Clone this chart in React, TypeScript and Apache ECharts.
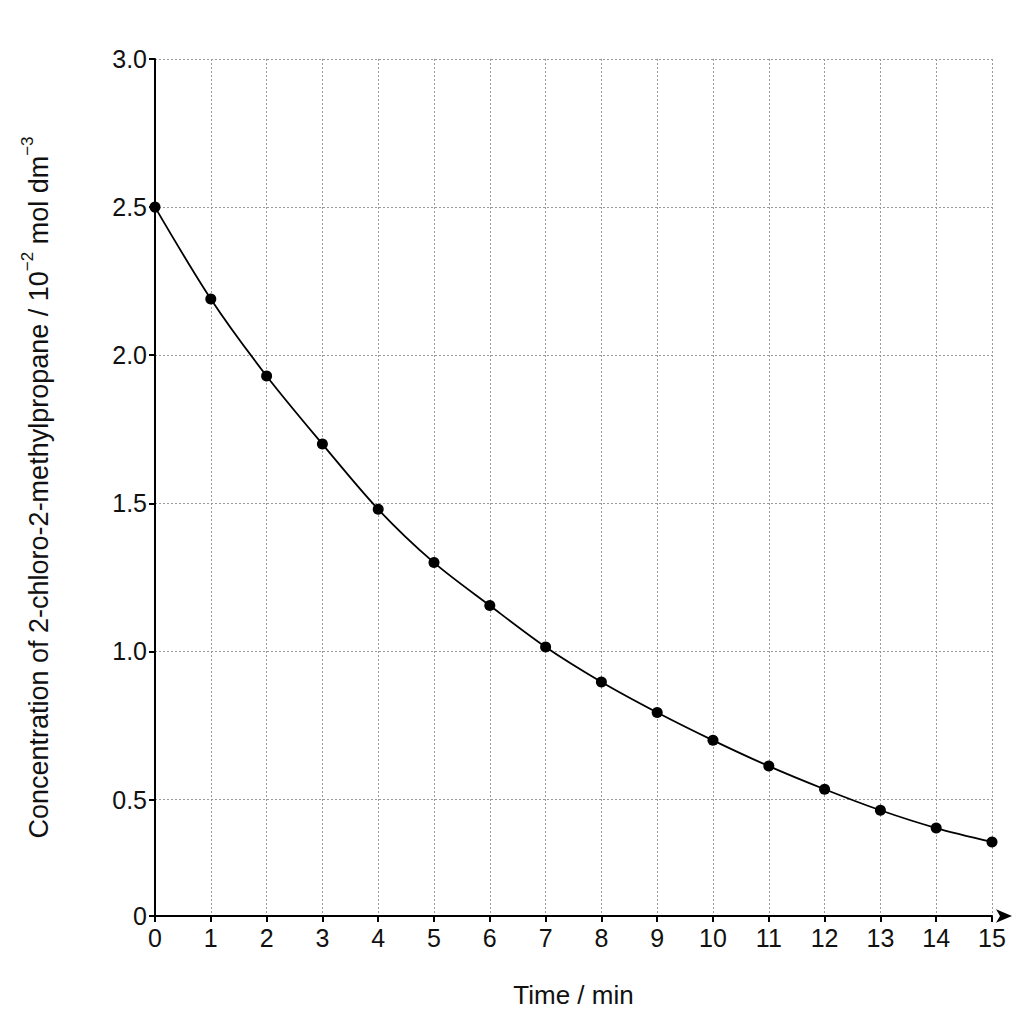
import { useEffect, useRef } from "react";
import * as echarts from "echarts";

// time in minutes, concentration in 10^-2 mol dm^-3
const times = [0, 1, 2, 3, 4, 5, 6, 7, 8, 9, 10, 11, 12, 13, 14, 15];
const concentrations = [
  2.5, 2.19, 1.93, 1.7, 1.48, 1.3, 1.155, 1.015, 0.897, 0.794, 0.7, 0.613,
  0.535, 0.464, 0.404, 0.357,
];
// the drawn axis starts a little above zero, but its bottom tick reads "0"
const yAxisBottom = 0.107;
const yTickValues = [yAxisBottom, 0.5, 1.0, 1.5, 2.0, 2.5, 3.0];

const font = '"Liberation Sans", Arial, sans-serif';

export default function App() {
  const chartRef = useRef<HTMLDivElement>(null);

  useEffect(() => {
    document.body.style.margin = "0";
    if (!chartRef.current) return;
    const chart = echarts.init(chartRef.current, null, { renderer: "svg" });

    const gridLine = {
      show: true,
      lineStyle: { color: "#9a9a9a", width: 1, type: [2, 2] as number[] },
    };

    const option: echarts.EChartsOption = {
      animation: false,
      backgroundColor: "#ffffff",
      textStyle: { fontFamily: font },
      grid: { left: 155, right: 32, top: 59, bottom: 108, containLabel: false },
      xAxis: {
        type: "value",
        min: 0,
        max: 15,
        interval: 1,
        name: "Time / min",
        nameLocation: "middle",
        nameGap: 66,
        nameTextStyle: { fontSize: 26, color: "#111", fontFamily: font },
        axisLine: {
          lineStyle: { color: "#000", width: 2 },
          symbol: ["none", "arrow"],
          symbolSize: [10, 16],
          symbolOffset: [0, 20],
        },
        axisTick: { show: true, length: 6, lineStyle: { color: "#000", width: 2 } },
        axisLabel: { fontSize: 25, color: "#111", margin: 9, fontFamily: font },
        splitLine: gridLine,
      },
      yAxis: {
        type: "value",
        min: yAxisBottom,
        max: 3.0,
        name: "Concentration of 2-chloro-2-methylpropane / 10{sup|−2} mol dm{sup|−3}",
        nameLocation: "middle",
        nameGap: 96,
        nameTextStyle: {
          fontSize: 27,
          color: "#111",
          fontFamily: font,
          lineHeight: 40,
          rich: {
            sup: {
              fontSize: 17,
              lineHeight: 40,
              verticalAlign: "top",
              color: "#111",
              fontFamily: font,
            },
          },
        },
        axisLine: { show: true, lineStyle: { color: "#000", width: 2 } },
        axisTick: {
          show: true,
          length: 6,
          lineStyle: { color: "#000", width: 2 },
          customValues: yTickValues,
        },
        axisLabel: {
          fontSize: 25,
          color: "#111",
          margin: 8,
          fontFamily: font,
          customValues: yTickValues,
          formatter: (v: number) => (v < 0.2 ? "0" : v.toFixed(1)),
        },
        splitLine: gridLine,
      },
      series: [
        {
          type: "line",
          data: times.map((t, i) => [t, concentrations[i]]),
          smooth: 0.3,
          symbol: "circle",
          symbolSize: 11,
          itemStyle: { color: "#000" },
          lineStyle: { color: "#000", width: 1.8 },
          clip: false,
          z: 5,
        },
      ],
    };

    chart.setOption(option);
    return () => {
      chart.dispose();
    };
  }, []);

  return <div ref={chartRef} style={{ width: 1024, height: 1024 }} />;
}
